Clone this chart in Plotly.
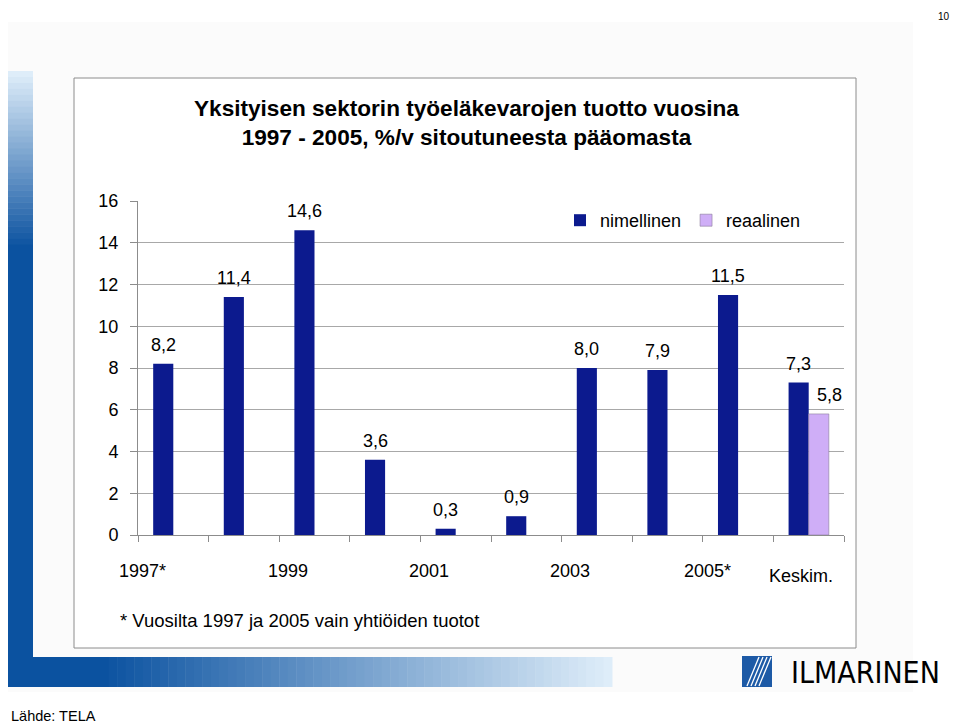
import plotly.graph_objects as go

# Data
categories = ["1997*", "1998", "1999", "2000", "2001", "2002", "2003", "2004", "2005*", "Keskim."]
nimellinen = [8.2, 11.4, 14.6, 3.6, 0.3, 0.9, 8.0, 7.9, 11.5, 7.3]
reaalinen = [None, None, None, None, None, None, None, None, None, 5.8]
axis_labels = ["1997*", "1999", "2001", "2003", "2005*", "Keskim."]
y_ticks = [0, 2, 4, 6, 8, 10, 12, 14, 16]

W, H = 960, 723
OFF = 8  # page body margin around the figure
FONT = "Liberation Sans, Arial, Helvetica, sans-serif"
NAVY = "#0c1a8e"
LAVENDER = "#cfaef7"
DARK = (11, 82, 160)
LIGHT = (222, 237, 249)


def px(x):
    return (x - OFF) / W


def py(y):
    return 1 - (y - OFF) / H


def mix(a, b, t):
    return "rgb({},{},{})".format(*[round(a[i] + (b[i] - a[i]) * t) for i in range(3)])


fig = go.Figure()

fig.add_trace(go.Bar(
    x=categories, y=nimellinen, name="nimellinen",
    marker=dict(color=NAVY, line=dict(width=0)),
))
fig.add_trace(go.Bar(
    x=categories, y=reaalinen, name="reaalinen",
    marker=dict(color=LAVENDER, line=dict(color="#8a7a9a", width=0.6)),
))

shapes = []
# faint page background
shapes.append(dict(type="rect", xref="paper", yref="paper", x0=px(0), x1=px(913), y0=py(692), y1=py(22),
                   fillcolor="#fbfbfb", line=dict(width=0), layer="below"))
# left gradient bar
steps = 30
for i in range(steps):
    y0 = 71 + (250 - 71) * i / steps
    y1 = 71 + (250 - 71) * (i + 1) / steps
    shapes.append(dict(type="rect", xref="paper", yref="paper", x0=px(3), x1=px(33), y0=py(y1 + 0.5), y1=py(y0),
                       fillcolor=mix(LIGHT, DARK, i / (steps - 1)), line=dict(width=0), layer="below"))
shapes.append(dict(type="rect", xref="paper", yref="paper", x0=px(3), x1=px(33), y0=py(687), y1=py(250),
                   fillcolor=mix(LIGHT, DARK, 1), line=dict(width=0), layer="below"))
# bottom gradient band
shapes.append(dict(type="rect", xref="paper", yref="paper", x0=px(3), x1=px(100), y0=py(687), y1=py(657),
                   fillcolor=mix(LIGHT, DARK, 1), line=dict(width=0), layer="below"))
steps = 60
for i in range(steps):
    x0 = 100 + (612 - 100) * i / steps
    x1 = 100 + (612 - 100) * (i + 1) / steps
    shapes.append(dict(type="rect", xref="paper", yref="paper", x0=px(x0), x1=px(x1 + 0.5), y0=py(687), y1=py(657),
                       fillcolor=mix(DARK, LIGHT, i / (steps - 1)), line=dict(width=0), layer="below"))
# chart panel
shapes.append(dict(type="rect", xref="paper", yref="paper", x0=px(74), x1=px(856), y0=py(648), y1=py(78),
                   fillcolor="white", line=dict(color="#8c8c8c", width=1), layer="below"))
# logo square with stripes
shapes.append(dict(type="rect", xref="paper", yref="paper", x0=px(742), x1=px(772), y0=py(687), y1=py(656),
                   fillcolor="#1d5aa6", line=dict(width=0)))
for k in range(4):
    shapes.append(dict(type="line", xref="paper", yref="paper",
                       x0=px(747 + 4 * k), y0=py(686), x1=px(759 + 4 * k), y1=py(657),
                       line=dict(color="white", width=1.3)))

annotations = []
# value labels
for i, v in enumerate(nimellinen):
    annotations.append(dict(x=i, y=v, xref="x", yref="y", text=f"{v:.1f}".replace(".", ","),
                            showarrow=False, xanchor="center", yanchor="bottom", xshift=-10, yshift=7,
                            font=dict(size=18, color="black", family=FONT)))
for i, v in enumerate(reaalinen):
    if v is not None:
        annotations.append(dict(x=i, y=v, xref="x", yref="y", text=f"{v:.1f}".replace(".", ","),
                                showarrow=False, xanchor="center", yanchor="bottom", xshift=21, yshift=7,
                                font=dict(size=18, color="black", family=FONT)))
# x labels (placed like the original text boxes)
label_shift = {"1997*": (-31, -36), "2005*": (-31, -36), "Keskim.": (-8, -41)}
for lab in axis_labels:
    shift, ysh = label_shift.get(lab, (-27, -36))
    annotations.append(dict(x=categories.index(lab), y=0, xref="x", yref="y", text=lab, showarrow=False,
                            xanchor="center", yanchor="middle", xshift=shift, yshift=ysh,
                            font=dict(size=18, color="black", family=FONT)))
# texts
annotations += [
    dict(x=px(466), y=py(123), xref="paper", yref="paper", showarrow=False, xanchor="center", yanchor="middle",
         text="<b>Yksityisen sektorin työeläkevarojen tuotto vuosina<br>1997 - 2005, %/v sitoutuneesta pääomasta</b>",
         font=dict(size=22.6, color="black", family=FONT), align="center"),
    dict(x=px(118), y=py(620), xref="paper", yref="paper", showarrow=False, xanchor="left", yanchor="middle",
         text="* Vuosilta 1997 ja 2005 vain yhtiöiden tuotot", font=dict(size=18.5, color="black", family=FONT)),
    dict(x=px(944), y=py(9), xref="paper", yref="paper", showarrow=False, xanchor="center", yanchor="top",
         text="10", font=dict(size=10, color="black", family=FONT)),
    dict(x=px(9), y=py(716), xref="paper", yref="paper", showarrow=False, xanchor="left", yanchor="middle",
         text="Lähde: TELA", font=dict(size=14.5, color="black", family=FONT)),
    dict(x=px(865), y=py(672), xref="paper", yref="paper", showarrow=False, xanchor="center", yanchor="middle",
         text="ILMARINEN",
         font=dict(size=30, color="black",
                   family="Liberation Sans Narrow, DejaVu Sans Condensed, Roboto Condensed, sans-serif")),
]

fig.update_layout(
    width=W, height=H,
    margin=dict(l=0, r=0, t=0, b=0, autoexpand=False),
    paper_bgcolor="white",
    plot_bgcolor="rgba(0,0,0,0)",
    barmode="group",
    bargap=0.43,
    bargroupgap=0,
    font=dict(family=FONT, color="black"),
    showlegend=True,
    legend=dict(orientation="h", x=px(560), y=py(202), xanchor="left", yanchor="top",
                bgcolor="rgba(0,0,0,0)", font=dict(size=18, color="black"),
                itemwidth=30, traceorder="normal"),
    shapes=shapes,
    annotations=annotations,
)

fig.update_xaxes(
    domain=[px(138), px(844)],
    type="category",
    range=[-0.5, len(categories) - 0.5],
    showticklabels=False,
    tickson="boundaries",
    ticks="outside", ticklen=6, tickcolor="#8c8c8c",
    showline=True, linecolor="#8c8c8c", linewidth=1,
    showgrid=False, automargin=False,
)
fig.update_yaxes(
    domain=[py(535), py(201)],
    range=[0, 16],
    tickvals=y_ticks,
    ticks="outside", ticklen=7, tickcolor="#8c8c8c",
    tickfont=dict(size=18, color="black", family=FONT),
    ticklabelstandoff=8,
    showline=True, linecolor="#8c8c8c", linewidth=1,
    showgrid=True, gridcolor="#a8a8a8", gridwidth=1,
    zeroline=False, automargin=False,
)

fig.write_html("out.html")
